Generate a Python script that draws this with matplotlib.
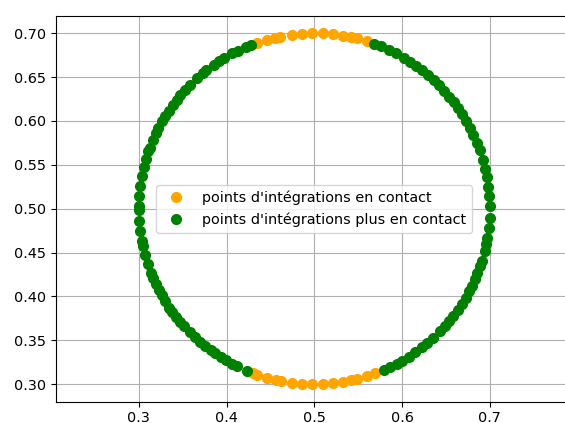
import numpy as np
import matplotlib
matplotlib.use("Agg")
import matplotlib.pyplot as plt

# integration points on the circle, given by their angle (degrees)
center_x, center_y = 0.5, 0.5
radius = 0.2

contact_deg = [72.4, 76.0, 77.9, 80.7, 83.9, 87.3, 90.6, 94.0, 97.3, 101.2, 103.0, 105.7, 108.9,
               249.4, 251.1, 254.5, 257.4, 259.0, 262.7, 266.0, 269.4, 272.7, 276.2, 279.3,
               282.1, 284.0, 287.6, 290.3]

free_deg = [0.9, 4.2, 7.2, 10.3, 13.0, 16.1, 19.5, 22.0, 24.9, 27.5, 30.0, 32.5, 34.9, 37.3,
            39.7, 42.2, 44.7, 47.0, 49.6, 52.0, 54.5, 56.9, 59.1, 62.2, 64.7, 67.6, 70.0,
            111.1, 112.8, 115.8, 117.8, 120.8, 122.7, 125.0, 128.0, 129.4, 132.0, 135.1, 137.4,
            139.7, 141.6, 143.9, 146.1, 148.3, 150.2, 152.6, 154.4, 156.9, 159.6, 160.9, 163.6,
            166.1, 169.2, 172.5, 175.8, 179.1,
            180.4, 184.0, 187.3, 190.6, 192.3, 195.4, 198.5, 201.4, 203.4, 205.4, 207.5, 209.6,
            211.7, 214.3, 215.9, 218.2, 220.1, 222.1, 224.7, 227.0, 229.3, 231.3, 233.8, 235.4,
            237.9, 239.8, 242.2, 244.0, 247.3,
            293.5, 295.5, 298.0, 299.9, 302.5, 305.1, 307.9, 310.1, 312.7, 315.7, 318.0, 320.3,
            322.2, 324.7, 327.2, 329.5, 331.9, 334.0, 336.4, 338.4, 341.1, 342.7, 346.1, 348.5,
            350.5, 353.8, 357.1]

labels = ["points d'intégrations en contact", "points d'intégrations plus en contact"]
colors = ["orange", "green"]


def to_xy(angles):
    t = np.deg2rad(np.array(angles))
    return center_x + radius * np.cos(t), center_y + radius * np.sin(t)


plt.rcParams['font.size'] = 10.4

fig = plt.figure(figsize=(5.65, 4.23), dpi=100)
ax = fig.add_axes([0.0986, 0.0504, 0.9154, 0.9125])

for angles, color, label in zip([contact_deg, free_deg], colors, labels):
    x, y = to_xy(angles)
    ax.plot(x, y, 'o', color=color, markersize=7, label=label)

ax.set_xlim(0.2053, 0.7947)
ax.set_ylim(0.28, 0.72)
ax.set_xticks([0.3, 0.4, 0.5, 0.6, 0.7])
ax.set_yticks(np.arange(0.30, 0.701, 0.05))
ax.set_yticklabels([f"{v:.2f}" for v in np.arange(0.30, 0.701, 0.05)])
ax.grid(True)
ax.legend(loc='center')

fig.savefig("out.png", dpi=100)
